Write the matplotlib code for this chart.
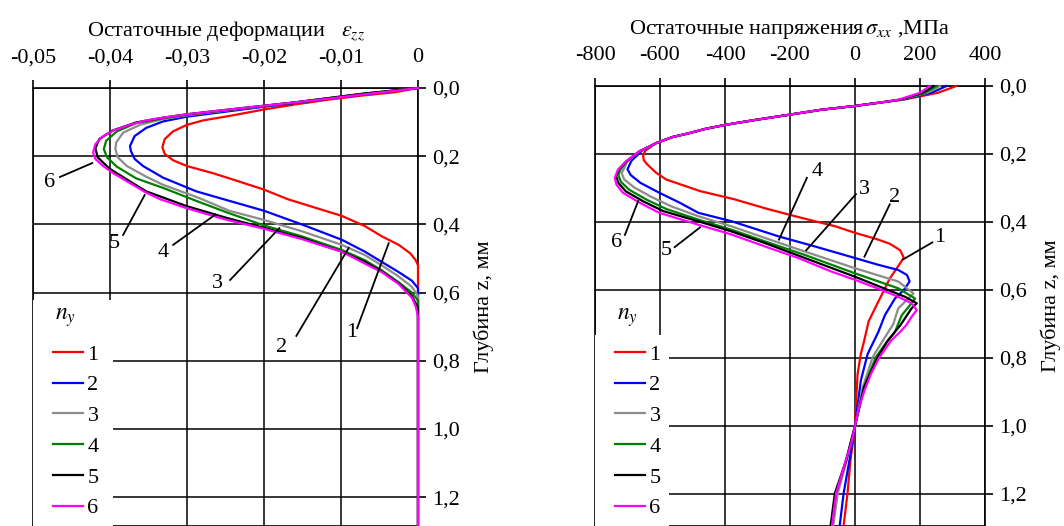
import matplotlib
matplotlib.use("Agg")
from matplotlib import pyplot as plt
from matplotlib.patches import Rectangle

plt.rcParams['font.family'] = ['Liberation Serif', 'DejaVu Serif']
plt.rcParams['mathtext.fontset'] = 'stix'
plt.rcParams['font.size'] = 16

ny_labels = ['1', '2', '3', '4', '5', '6']
colors = ['#ff0000', '#0000ff', '#8c8c8c', '#008000', '#000000', '#ff00ff']

# ---- left: residual strain eps_zz vs depth z ----
eps_z1 = [0, 0.012, 0.022, 0.034, 0.048, 0.063, 0.082, 0.095, 0.108, 0.127, 0.150, 0.174, 0.193,
          0.212, 0.229, 0.250, 0.265, 0.298, 0.327, 0.375, 0.405, 0.435, 0.460, 0.485, 0.505, 0.52, 1.3]
eps_v1 = [0, -0.0029, -0.0072, -0.0116, -0.0159, -0.020, -0.0245, -0.0279, -0.030, -0.0318, -0.0329,
          -0.0332, -0.0329, -0.0318, -0.030, -0.0266, -0.0245, -0.020, -0.0168, -0.0099, -0.0069,
          -0.0047, -0.0025, -0.0010, -0.0003, 0, 0]
eps_z2 = [0, 0.019, 0.031, 0.044, 0.055, 0.068, 0.084, 0.098, 0.117, 0.141, 0.170, 0.184, 0.208, 0.229,
          0.263, 0.303, 0.331, 0.36, 0.40, 0.445, 0.48, 0.51, 0.54, 0.565, 0.587, 1.3]
eps_v2 = [0, -0.0072, -0.0116, -0.0159, -0.020, -0.0245, -0.030, -0.0331, -0.0353, -0.0368, -0.0374,
          -0.0373, -0.0368, -0.0357, -0.0331, -0.0288, -0.0245, -0.020, -0.0151, -0.0099, -0.0069,
          -0.0047, -0.0025, -0.0008, 0, 0]
eps_z3 = [0, 0.017, 0.042, 0.065, 0.080, 0.091, 0.108, 0.131, 0.160, 0.179, 0.203, 0.229, 0.260, 0.284,
          0.322, 0.36, 0.387, 0.42, 0.46, 0.49, 0.52, 0.553, 0.583, 0.61, 1.3]
eps_v3 = [0, -0.0072, -0.0159, -0.0245, -0.030, -0.0331, -0.0361, -0.0383, -0.0392, -0.0393, -0.039,
          -0.0378, -0.0353, -0.0331, -0.0285, -0.0245, -0.020, -0.0151, -0.0099, -0.0069, -0.0047,
          -0.0025, -0.0008, 0, 0]
eps_z4 = [0, 0.017, 0.042, 0.064, 0.078, 0.089, 0.103, 0.127, 0.155, 0.179, 0.203, 0.231, 0.265, 0.293,
          0.331, 0.365, 0.403, 0.435, 0.475, 0.505, 0.535, 0.57, 0.60, 0.623, 1.3]
eps_v4 = [0, -0.0072, -0.0159, -0.0245, -0.030, -0.0331, -0.0366, -0.0391, -0.0405, -0.0408, -0.0404,
          -0.0391, -0.0366, -0.0331, -0.0288, -0.0248, -0.020, -0.0151, -0.0099, -0.0069, -0.0047,
          -0.0025, -0.0008, 0, 0]
eps_z5 = [0, 0.017, 0.042, 0.063, 0.077, 0.087, 0.101, 0.125, 0.150, 0.177, 0.203, 0.236, 0.274, 0.303,
          0.346, 0.38, 0.41, 0.44, 0.48, 0.51, 0.538, 0.573, 0.61, 0.645, 1.3]
eps_v5 = [0, -0.0072, -0.0159, -0.0245, -0.030, -0.0331, -0.0366, -0.0397, -0.0414, -0.0419, -0.0416,
          -0.0401, -0.0374, -0.0353, -0.0301, -0.025, -0.020, -0.0151, -0.0099, -0.0069, -0.0047,
          -0.0025, -0.0008, 0, 0]
eps_z6 = [0, 0.008, 0.019, 0.031, 0.042, 0.052, 0.063, 0.077, 0.087, 0.095, 0.108, 0.124, 0.143, 0.165,
          0.189, 0.208, 0.227, 0.251, 0.279, 0.307, 0.326, 0.352, 0.385, 0.413, 0.443, 0.48, 0.515, 0.54,
          0.575, 0.615, 0.64, 0.67, 1.3]
eps_v6 = [0, -0.0029, -0.0072, -0.0116, -0.0159, -0.020, -0.0245, -0.030, -0.0331, -0.0353, -0.0374,
          -0.0395, -0.041, -0.0419, -0.0422, -0.0419, -0.041, -0.0395, -0.0374, -0.0353, -0.0335,
          -0.0301, -0.0251, -0.020, -0.0151, -0.0099, -0.0069, -0.0047, -0.0025, -0.0008, -0.0003, 0, 0]

# ---- right: residual stress sigma_xx (MPa) vs depth z ----
up_z = [0.046, 0.059, 0.07, 0.085, 0.1, 0.114, 0.126, 0.139, 0.15, 0.168]
up_s = [98, -3, -105, -206, -308, -397, -460, -511, -561, -612]

sig_z1 = [0, 0.02, 0.04] + up_z + [0.19, 0.205, 0.218, 0.23, 0.255, 0.275, 0.309, 0.333, 0.362, 0.388,
                                   0.413, 0.432, 0.45, 0.464, 0.483, 0.505, 0.537, 0.566, 0.605, 0.653,
                                   0.692, 0.75, 0.788, 0.847, 0.935, 1.0, 1.052, 1.1, 1.198, 1.3]
sig_v1 = [312, 255, 150] + up_s + [-645, -652, -650, -640, -612, -581, -477, -372, -268, -164, -59, 0,
                                   66, 107, 139, 150, 128, 107, 87, 62, 42, 28, 18, 8, 3, 0, -7, -14,
                                   -23, -36]
sig_z2 = [0, 0.02, 0.04] + up_z + [0.19, 0.22, 0.245, 0.262, 0.285, 0.315, 0.343, 0.373, 0.398, 0.442,
                                   0.472, 0.506, 0.526, 0.541, 0.556, 0.575, 0.6, 0.625, 0.674, 0.723,
                                   0.788, 0.866, 1.0, 1.1, 1.198, 1.3]
sig_v2 = [282, 235, 145] + up_s + [-655, -688, -700, -690, -660, -600, -540, -482, -379, -236, -123, 0,
                                   72, 133, 160, 168, 150, 123, 92, 72, 39, 18, 0, -17, -35, -48]
sig_z3 = [0, 0.02, 0.04] + up_z + [0.192, 0.222, 0.256, 0.275, 0.298, 0.327, 0.354, 0.383, 0.413, 0.447,
                                   0.487, 0.536, 0.575, 0.61, 0.625, 0.654, 0.7, 0.75, 0.798, 0.886,
                                   1.0, 1.1, 1.198, 1.3]
sig_v3 = [262, 222, 142] + up_s + [-662, -700, -718, -710, -680, -625, -565, -482, -379, -277, -154, 0,
                                   133, 180, 164, 133, 118, 85, 54, 24, 0, -25, -53, -68]
sig_z4 = [0, 0.02, 0.04] + up_z + [0.192, 0.222, 0.246, 0.262, 0.282, 0.305, 0.335, 0.362, 0.393, 0.423,
                                   0.457, 0.497, 0.551, 0.595, 0.625, 0.639, 0.674, 0.723, 0.76, 0.798,
                                   0.886, 1.0, 1.1, 1.198, 1.3]
sig_v4 = [252, 215, 140] + up_s + [-663, -703, -722, -728, -720, -695, -640, -580, -482, -379, -277,
                                   -154, 0, 133, 185, 174, 144, 123, 92, 64, 27, 0, -27, -58, -72]
sig_z5 = [0, 0.02, 0.04] + up_z + [0.192, 0.222, 0.246, 0.265, 0.285, 0.31, 0.34, 0.368, 0.398, 0.428,
                                   0.462, 0.506, 0.561, 0.62, 0.639, 0.654, 0.703, 0.75, 0.798, 0.886,
                                   1.0, 1.1, 1.198, 1.3]
sig_v5 = [242, 208, 138] + up_s + [-663, -704, -728, -735, -728, -705, -650, -590, -482, -379, -277,
                                   -154, 0, 154, 190, 174, 140, 100, 70, 28, 0, -27, -62, -76]
sig_z6 = [0, 0.02, 0.04] + up_z + [0.192, 0.221, 0.246, 0.27, 0.29, 0.314, 0.343, 0.373, 0.408, 0.437,
                                   0.472, 0.506, 0.546, 0.57, 0.6, 0.62, 0.639, 0.659, 0.679, 0.703,
                                   0.72, 0.749, 0.798, 0.847, 0.896, 0.944, 1.0, 1.052, 1.1, 1.149,
                                   1.198, 1.3]
sig_v6 = [230, 200, 135] + up_s + [-663, -704, -729, -739, -734, -714, -663, -602, -482, -379, -277,
                                   -174, -72, 0, 82, 133, 174, 190, 174, 158, 142, 111, 75, 49, 29, 13,
                                   0, -12, -28, -43, -58, -72]

# curve labels with leader lines: text (x, z), line from (x0, z0) to (x1, z1)
eps_lab_x = [-0.0086, -0.0177, -0.026, -0.0331, -0.0394, -0.0478]
eps_lab_z = [0.718, 0.76, 0.572, 0.481, 0.455, 0.276]
eps_ln_x0 = [-0.0079, -0.0158, -0.0244, -0.0318, -0.0383, -0.0465]
eps_ln_z0 = [0.704, 0.727, 0.563, 0.46, 0.431, 0.261]
eps_ln_x1 = [-0.0038, -0.0090, -0.0180, -0.0263, -0.0355, -0.0423]
eps_ln_z1 = [0.455, 0.469, 0.411, 0.371, 0.314, 0.22]

sig_lab_x = [262, 123, 29, -117, -581, -735]
sig_lab_z = [0.446, 0.328, 0.304, 0.25, 0.483, 0.461]
sig_ln_x0 = [238, 107, 3, -148, -555, -708]
sig_ln_z0 = [0.46, 0.348, 0.318, 0.27, 0.474, 0.438]
sig_ln_x1 = [148, 29, -150, -234, -477, -667]
sig_ln_z1 = [0.51, 0.502, 0.483, 0.452, 0.416, 0.338]

eps_ticks = [-0.05, -0.04, -0.03, -0.02, -0.01, 0]
eps_ticklabels = ['-0,05', '-0,04', '-0,03', '-0,02', '-0,01', '0']
sig_ticks = [-800, -600, -400, -200, 0, 200, 400]
sig_ticklabels = ['-800', '-600', '-400', '-200', '0', '200', '400']
z_ticks = [0, 0.2, 0.4, 0.6, 0.8, 1.0, 1.2]
z_ticklabels = ['0,0', '0,2', '0,4', '0,6', '0,8', '1,0', '1,2']

W, H = 1064, 526
fig = plt.figure(figsize=(W / 100, H / 100), dpi=100)
ax1 = fig.add_axes([33 / W, 0, 385 / W, (H - 88) / H])
ax2 = fig.add_axes([595 / W, 0, 390 / W, (H - 86) / H])


def style_axes(ax, xticks, xticklabels, xlabel, zmax):
    ax.set_ylim(zmax, 0)
    ax.set_xticks(xticks)
    ax.set_xticklabels(xticklabels)
    ax.set_yticks(z_ticks)
    ax.set_yticklabels(z_ticklabels)
    ax.xaxis.set_label_position('top')
    ax.yaxis.set_label_position('right')
    ax.tick_params(axis='x', top=True, bottom=False, labeltop=True, labelbottom=False,
                   direction='out', length=6, width=1.2, pad=9, labelsize=16)
    ax.tick_params(axis='y', right=True, left=False, labelright=True, labelleft=False,
                   direction='out', length=6, width=1.2, pad=4, labelsize=16)
    ax.set_xlabel(xlabel, fontsize=16, labelpad=9)
    ax.set_ylabel('Глубина z, мм', fontsize=16, labelpad=10)
    ax.grid(True, color='black', lw=1.1)
    for s in ax.spines.values():
        s.set_linewidth(1.2)


style_axes(ax1, eps_ticks, eps_ticklabels,
           'Остаточные деформации   $\\varepsilon_{zz}$', (H - 88) / 341)
ax1.set_xlim(-0.05, 0)
style_axes(ax2, sig_ticks, sig_ticklabels,
           'Остаточные напряжения$\\,\\sigma_{xx}$ ,МПа', (H - 86) / 340)
ax2.set_xlim(-800, 400)

eps_sets = [(eps_v1, eps_z1), (eps_v2, eps_z2), (eps_v3, eps_z3),
            (eps_v4, eps_z4), (eps_v5, eps_z5), (eps_v6, eps_z6)]
sig_sets = [(sig_v1, sig_z1), (sig_v2, sig_z2), (sig_v3, sig_z3),
            (sig_v4, sig_z4), (sig_v5, sig_z5), (sig_v6, sig_z6)]

for ax, sets in [(ax1, eps_sets), (ax2, sig_sets)]:
    for (x, z), c, lab in zip(sets, colors, ny_labels):
        ax.plot(x, z, color=c, lw=1.6, label=lab, zorder=3, clip_on=False)

for i, lab in enumerate(ny_labels):
    ax1.text(eps_lab_x[i], eps_lab_z[i], lab, ha='center', va='center', fontsize=16)
    ax1.plot([eps_ln_x0[i], eps_ln_x1[i]], [eps_ln_z0[i], eps_ln_z1[i]], color='black', lw=1.3, zorder=4)
    ax2.text(sig_lab_x[i], sig_lab_z[i], lab, ha='center', va='center', fontsize=16)
    ax2.plot([sig_ln_x0[i], sig_ln_x1[i]], [sig_ln_z0[i], sig_ln_z1[i]], color='black', lw=1.3, zorder=4)

# white box behind the legend, the n_y heading, then the legend rows
for ax, aw, ah, bw, bh in [(ax1, 385, 438, 80, 226), (ax2, 390, 440, 74, 191)]:
    ax.add_patch(Rectangle((0, 0), bw / aw, bh / ah, transform=ax.transAxes, facecolor='white',
                           edgecolor='none', zorder=2.6))
    ax.text(22 / aw, (526 - 318) / ah, '$n_y$', transform=ax.transAxes, ha='left', va='center',
            fontsize=17, zorder=6)
    leg = ax.legend(loc='upper left', bbox_to_anchor=(20 / aw, (526 - 344) / ah), frameon=False,
                    borderpad=0, borderaxespad=0, handlelength=1.35, handletextpad=0.2,
                    labelspacing=0.46, fontsize=16)
    leg.set_zorder(5)

fig.savefig('out.png', dpi=100)
